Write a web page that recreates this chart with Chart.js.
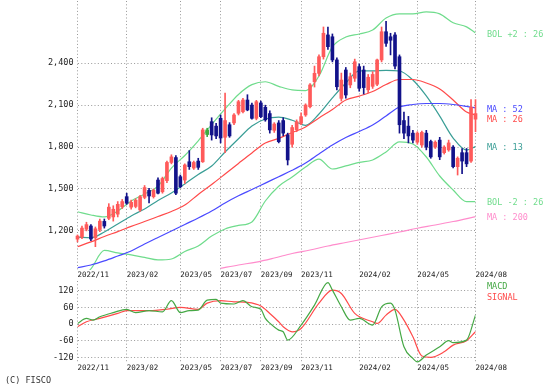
<!DOCTYPE html>
<html>
<head>
<meta charset="utf-8">
<script src="https://cdn.jsdelivr.net/npm/chart.js@4/dist/chart.umd.min.js"></script>
<style>
body{margin:0;background:#fff;width:553px;height:386px;overflow:hidden;position:relative;}
canvas{position:absolute;left:0;}
#main{top:0;}
#macd{top:277px;}
#copy{position:absolute;left:5px;top:375px;font:8.5px "DejaVu Sans Mono",monospace;color:#333;}
</style>
</head>
<body>
<canvas id="main" width="553" height="283"></canvas>
<canvas id="macd" width="553" height="96"></canvas>
<div id="copy">(C) FISCO</div>
<script>
// weekly candles, index 0 = week of 2022/11/21
const tickWeeks = [0, 11, 23, 32, 41, 50, 63, 76, 89];
const tickLabels = ["2022/11","2023/02","2023/05","2023/07","2023/09","2023/11","2024/02","2024/05","2024/08"];
const priceTicks = [1200, 1500, 1800, 2100, 2400];
const macdTicks = [-120, -60, 0, 60, 120];

const open = [1141,1156,1212,1235,1150,1210,1268,1290,1300,1320,
  1373,1445,1370,1375,1350,1440,1490,1445,1564,1480,
  1560,1690,1725,1588,1564,1695,1650,1700,1695,1890,
  1982,1950,2006,1870,1960,1973,2042,2053,2137,2101,
  2006,2116,2085,2040,1920,1973,1990,1887,1820,1925,
  1970,2030,2089,2268,2328,2447,2603,2590,2424,2149,
  2352,2245,2293,2376,2352,2210,2235,2250,2424,2626,
  2590,2603,2447,1990,1950,1900,1835,1815,1900,1840,
  1800,1850,1760,1780,1800,1660,1760,1760,1700,2000];
const high = [1171,1235,1262,1245,1228,1285,1285,1395,1380,1410,
  1425,1470,1420,1430,1455,1525,1505,1500,1580,1585,
  1700,1745,1740,1600,1680,1775,1700,1720,1935,1935,
  2010,1970,2030,2187,1975,2040,2135,2150,2175,2115,
  2135,2130,2100,2060,1975,1990,2010,1900,1955,1995,
  2045,2110,2255,2380,2460,2660,2660,2610,2440,2330,
  2370,2330,2430,2395,2380,2320,2340,2430,2660,2700,
  2615,2620,2460,2050,2020,1920,1910,1915,1920,1850,
  1845,1870,1810,1850,1810,1730,1790,1790,2140,2140];
const low = [1121,1145,1200,1130,1087,1195,1220,1280,1270,1300,
  1360,1390,1355,1365,1340,1430,1400,1435,1465,1470,
  1545,1680,1460,1510,1540,1640,1640,1640,1690,1875,
  1850,1860,1830,1760,1870,1960,2030,2045,2060,2000,
  1995,2010,1985,1900,1905,1830,1880,1672,1800,1910,
  1960,2020,2080,2230,2310,2430,2500,2410,2210,2130,
  2150,2225,2270,2200,2180,2190,2220,2240,2410,2520,
  2460,2360,1900,1860,1830,1830,1820,1800,1780,1720,
  1790,1710,1750,1770,1650,1600,1610,1660,1690,1910];
const close = [1163,1220,1245,1142,1215,1270,1235,1370,1355,1390,
  1410,1398,1405,1420,1445,1510,1450,1490,1470,1575,
  1690,1730,1470,1516,1672,1660,1690,1655,1923,1923,
  1887,1880,1865,1990,1880,2030,2125,2137,2066,2006,
  2125,2018,1995,1923,1965,1839,1900,1708,1940,1982,
  2018,2101,2245,2328,2447,2615,2519,2424,2232,2280,
  2173,2304,2411,2221,2226,2300,2320,2424,2626,2543,
  2565,2380,1960,1900,1880,1850,1900,1905,1800,1730,
  1835,1730,1800,1830,1660,1720,1700,1680,2085,2040];

// moving averages and bands, read every 3 weeks
const lineWeeks = [0,3,6,9,12,15,18,21,24,27,30,33,36,39,42,45,48,51,54,57,60,63,66,69,72,75,78,81,84,87,89];
const ma13 = [1156,1151,1192,1249,1307,1357,1418,1471,1536,1604,1665,1765,1860,1951,2001,2015,1992,1956,2037,2152,2259,2345,2345,2349,2345,2280,2166,2022,1865,1779,1803];
const ma26 = [1087,1121,1160,1195,1232,1267,1303,1339,1385,1461,1532,1607,1683,1758,1829,1862,1904,1944,2009,2069,2137,2165,2198,2248,2284,2284,2259,2216,2137,2051,2030];
const ma52 = [937,956,985,1020,1056,1106,1153,1199,1246,1292,1342,1400,1451,1496,1542,1588,1634,1686,1751,1815,1869,1912,1958,2023,2087,2105,2112,2112,2105,2091,2080];
const bolUp = [1337,1314,1300,1342,1414,1464,1520,1650,1740,1845,1961,2073,2177,2247,2268,2235,2209,2205,2309,2517,2588,2610,2638,2724,2754,2754,2768,2754,2690,2661,2617];
const bolDn = [837,928,1060,1042,1028,1010,992,999,1053,1092,1163,1214,1239,1264,1414,1520,1586,1658,1714,1643,1665,1690,1708,1765,1837,1822,1729,1593,1493,1409,1409];
const ma200Weeks = [32,36,40,44,48,52,56,60,64,68,72,76,80,84,89];
const ma200 = [932,956,977,1006,1038,1063,1092,1117,1142,1167,1192,1219,1242,1267,1302];

const macdWeeks = [0,2,3.5,5,8,11,13,16,19,21,23,25,27,29,31,32,35,37,39,41,42,43,45,46,47,50,53,56,57,59,61,63,66,68,70,71,73,75,76,78,81,83,84,87,89];
const macd = [2,20,14,26,41,53,41,48,44,84,41,48,50,86,89,75,72,84,62,53,20,3,-22,-28,-58,-4,68,149,122,62,14,20,-4,62,75,50,-82,-124,-136,-112,-82,-60,-67,-58,32];
const signalWeeks = [0,2,5,9,11,16,20,23,27,29,32,35,38,41,43,45,46,48,50,54,57,59,62,66,67,69,71,73,75,77,79,82,84,87,89];
const signal = [-10,8,20,38,48,48,53,60,53,75,84,80,78,65,38,8,-10,-28,-16,75,122,110,38,8,2,32,53,14,-46,-115,-120,-100,-76,-60,-28];

const FONT = "DejaVu Sans Mono";
const RED = '#ff5a5a', NAVY = '#12128a', FLAT = '#3faa3f';

const candleColor = close.map((c, i) => (i > 0 && c === close[i - 1]) ? FLAT : (c >= open[i] ? RED : NAVY));

function pts(xs, ys) { return xs.map((x, k) => ({x: x, y: ys[k]})); }

function line(label, xs, ys, color, tag) {
    return {type: 'line', label: label, tag: tag, data: pts(xs, ys), borderColor: color,
        borderWidth: 1.2, pointRadius: 0, cubicInterpolationMode: 'monotone', order: 2};
}

const grid = {color: '#999', lineWidth: 1, drawTicks: false};
const border = {display: false, dash: [1, 2.3]};

function xScale(h) {
    return {
        type: 'linear', min: 0, max: 89, offset: false,
        grid: Object.assign({offset: false}, grid), border: border,
        afterBuildTicks: s => { s.ticks = tickWeeks.map(v => ({value: v})); },
        afterFit: s => { s.height = h; },
        ticks: {autoSkip: false, maxRotation: 0, align: 'start', padding: 1,
            color: '#222', font: {family: FONT, size: 7.5},
            callback: (v, i) => tickLabels[i]}
    };
}

function yScale(min, max, list, fmt) {
    return {
        min: min, max: max, grid: grid, border: border,
        afterBuildTicks: s => { s.ticks = list.map(v => ({value: v})); },
        afterFit: s => { s.width = 77.5; s.paddingTop = 0; s.paddingBottom = 0; },
        ticks: {padding: 4, color: '#222', font: {family: FONT, size: 8.5}, callback: fmt}
    };
}

const endLabels = {
    id: 'endLabels',
    afterDraw(chart) {
        const ctx = chart.ctx, y = chart.scales.y;
        const items = chart.data.datasets.filter(d => d.tag).map(d => ({
            text: d.tag, color: d.borderColor,
            y: y.getPixelForValue(d.data[d.data.length - 1].y) + 1.5
        })).sort((a, b) => a.y - b.y);
        for (let k = 1; k < items.length; k++) {
            if (items[k].y - items[k - 1].y < 10) items[k].y = items[k - 1].y + 10;
        }
        ctx.save();
        ctx.font = '8.5px "' + FONT + '"';
        ctx.textBaseline = 'middle';
        items.forEach(it => { ctx.fillStyle = it.color; ctx.fillText(it.text, 487, it.y); });
        ctx.restore();
    }
};

const macdLegend = {
    id: 'macdLegend',
    afterDraw(chart) {
        const ctx = chart.ctx;
        ctx.save();
        ctx.font = '8.5px "' + FONT + '"';
        ctx.textBaseline = 'middle';
        chart.data.datasets.forEach((d, k) => {
            ctx.fillStyle = d.borderColor;
            ctx.fillText(d.label, 487, 10 + k * 11);
        });
        ctx.restore();
    }
};

new Chart(document.getElementById('main'), {
    type: 'bar',
    data: {
        datasets: [
            {label: 'body', data: close.map((c, i) => ({x: i, y: [open[i], c]})), backgroundColor: candleColor,
                barThickness: 3, grouped: false, order: 0, clip: false},
            {label: 'wick', data: close.map((c, i) => ({x: i, y: [low[i], high[i]]})), backgroundColor: candleColor,
                barThickness: 1, grouped: false, order: 1, clip: false},
            line('BOL +2', lineWeeks, bolUp, '#6fdc8c', 'BOL +2 : 26'),
            line('MA 52', lineWeeks, ma52, '#4a4aff', 'MA : 52'),
            line('MA 26', lineWeeks, ma26, '#ff4a4a', 'MA : 26'),
            line('MA 13', lineWeeks, ma13, '#3a9e96', 'MA : 13'),
            line('BOL -2', lineWeeks, bolDn, '#6fdc8c', 'BOL -2 : 26'),
            line('MA 200', ma200Weeks, ma200, '#ff8ccc', 'MA : 200')
        ]
    },
    options: {
        responsive: false, animation: false, devicePixelRatio: 1,
        layout: {padding: {top: 1, right: 77.5, left: 0, bottom: 0}},
        plugins: {legend: {display: false}, tooltip: {enabled: false}},
        scales: {
            x: xScale(13),
            y: yScale(920, 2846, priceTicks, v => v.toLocaleString('en-US'))
        }
    },
    plugins: [endLabels]
});

new Chart(document.getElementById('macd'), {
    type: 'line',
    data: {
        datasets: [
            {label: 'MACD', data: pts(macdWeeks, macd), borderColor: '#45a845', borderWidth: 1.2,
                pointRadius: 0, cubicInterpolationMode: 'monotone'},
            {label: 'SIGNAL', data: pts(signalWeeks, signal), borderColor: '#ff4a4a', borderWidth: 1.2,
                pointRadius: 0, cubicInterpolationMode: 'monotone'}
        ]
    },
    options: {
        responsive: false, animation: false, devicePixelRatio: 1,
        layout: {padding: {top: 4, right: 77.5, left: 0, bottom: 0}},
        plugins: {legend: {display: false}, tooltip: {enabled: false}},
        scales: {
            x: xScale(10),
            y: yScale(-140.4, 154.8, macdTicks, v => String(v))
        }
    },
    plugins: [macdLegend]
});
</script>
</body>
</html>
